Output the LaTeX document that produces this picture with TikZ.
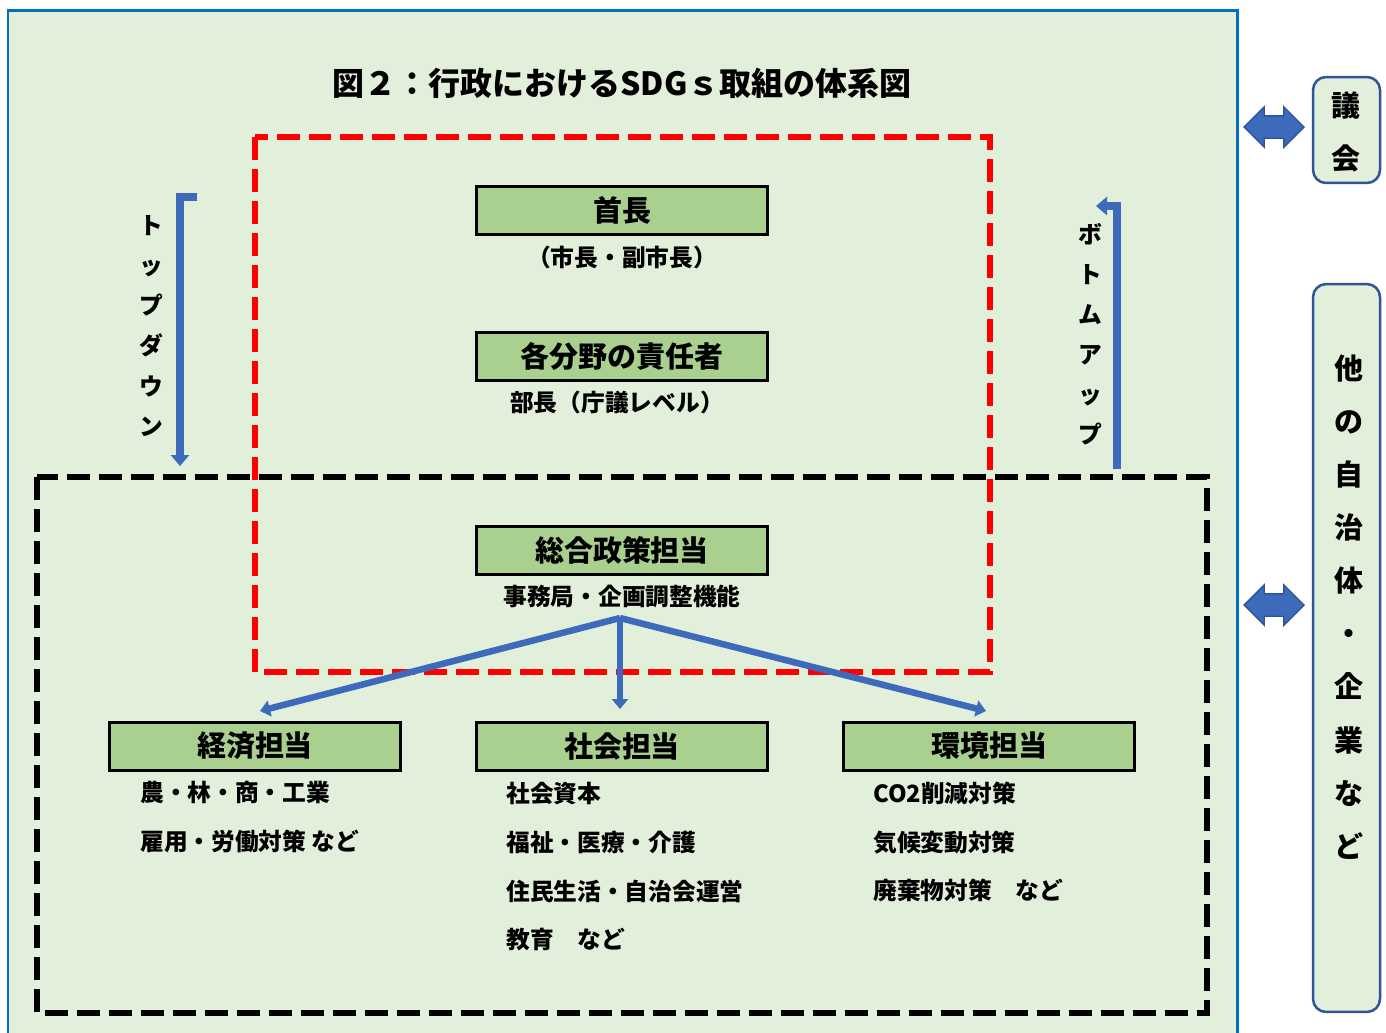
\documentclass[tikz,border=0pt]{standalone}
\usepackage{fontspec}
\setmainfont{Noto Sans CJK JP}
\usetikzlibrary{arrows.meta}
\usetikzlibrary{shapes.arrows}

\definecolor{bggreen}{RGB}{226,239,218}
\definecolor{boxgreen}{RGB}{169,208,142}
\definecolor{frameblue}{RGB}{0,112,192}
\definecolor{arrowblue}{RGB}{62,106,188}
\definecolor{darkblue}{RGB}{47,85,151}

\tikzset{
  tantou/.style={draw=black,line width=0.06cm,fill=boxgreen,minimum width=5.84cm,
    minimum height=0.96cm,inner sep=0pt,font=\bfseries\fontsize{16.5}{20}\selectfont},
  subtext/.style={inner sep=0pt,font=\bfseries\fontsize{13.5}{16}\selectfont},
  itemlist/.style={inner sep=0pt,align=left,anchor=west,font=\bfseries\fontsize{13.5}{27.7}\selectfont},
  vtext/.style={inner sep=0pt,align=center,font=\bfseries\fontsize{13.5}{22.8}\selectfont},
  sidetext/.style={inner sep=0pt,align=center,font=\bfseries\fontsize{16.5}{30.2}\selectfont},
  sidebox/.style={draw=darkblue,line width=0.05cm,fill=bggreen,rounded corners=0.26cm,
    minimum width=1.34cm,inner sep=0pt},
  flow/.style={draw=arrowblue,line width=0.13cm,-{Triangle[width=0.32cm,length=0.2cm]}},
  bentflow/.style={draw=arrowblue,line width=0.15cm,-{Triangle[width=0.36cm,length=0.22cm]}},
  pairarrow/.style={double arrow,draw=darkblue,fill=arrowblue,line width=0.8pt,inner xsep=0pt,
    inner ysep=0.21cm,minimum height=1.2cm,double arrow head extend=0.18cm},
  zone/.style={line width=0.11cm,dash pattern=on 0.46cm off 0.18cm}
}

\begin{document}
\begin{tikzpicture}[x=0.02cm,y=-0.02cm]
\path[use as bounding box,fill=white] (0,0) rectangle (1386,1032);
\clip (0,0) rectangle (1386,1032);

% frame and zones
\draw [frameblue,fill=bggreen,line width=0.06cm] (8,10) rectangle (1237,1060);
\draw [zone,red] (255,137) rectangle (990,672);
\draw [zone,black] (37,477) rectangle (1207,1013);

\node (title) [inner sep=0pt,font=\bfseries\fontsize{18.2}{22}\selectfont] at (622,83) {図２：行政におけるSDGｓ取組の体系図};

% upper levels
\node (shucho) [tantou] at (622,210) {首長};
\node (shucho sub) [subtext] at (622,257) {（市長・副市長）};
\node (sekinin) [tantou] at (622,356) {各分野の責任者};
\node (sekinin sub) [subtext] at (617,402) {部長（庁議レベル）};
\node (sogo) [tantou] at (622,550) {総合政策担当};
\node (sogo sub) [subtext] at (622,596) {事務局・企画調整機能};

% sections
\node (keizai) [tantou] at (255,746) {経済担当};
\node (shakai) [tantou] at (622,746) {社会担当};
\node (kankyo) [tantou] at (989,746) {環境担当};
\node (keizai list) [itemlist] at (140,817) {農・林・商・工業\\雇用・労働対策 など};
\node (shakai list) [itemlist] at (506,867) {社会資本\\福祉・医療・介護\\住民生活・自治会運営\\教育　など};
\node (kankyo list) [itemlist] at (873,842) {CO2削減対策\\気候変動対策\\廃棄物対策　など};

\coordinate (hub) at (620,618);
\draw [flow] (hub) -- (260,711);
\draw [flow] (hub) -- (620,709);
\draw [flow] (hub) -- (986,711);

% top-down / bottom-up
\node (topdown) [vtext] at (151,326) {ト\\ッ\\プ\\ダ\\ウ\\ン};
\node (bottomup) [vtext] at (1090,334) {ボ\\ト\\ム\\ア\\ッ\\プ};
\coordinate (td start) at (197,197);
\coordinate (td end) at (180,466);
\draw [bentflow] (td start) -| (td end);
\coordinate (bu start) at (1117,469);
\coordinate (bu end) at (1096,206);
\draw [bentflow] (bu start) |- (bu end);

% outside partners
\node (gikai) [sidebox,minimum height=2.12cm] at (1346.5,130) {};
\node (gikai text) [sidetext] at (1346,132) {議\\会};
\node (tasha) [sidebox,minimum height=14.56cm] at (1346.5,648) {};
\node (tasha text) [sidetext] at (1349,607) {他\\の\\自\\治\\体\\・\\企\\業\\な\\ど};
\node (gikai link) [pairarrow] at (1274,127) {};
\node (tasha link) [pairarrow] at (1274,605) {};
\end{tikzpicture}
\end{document}
